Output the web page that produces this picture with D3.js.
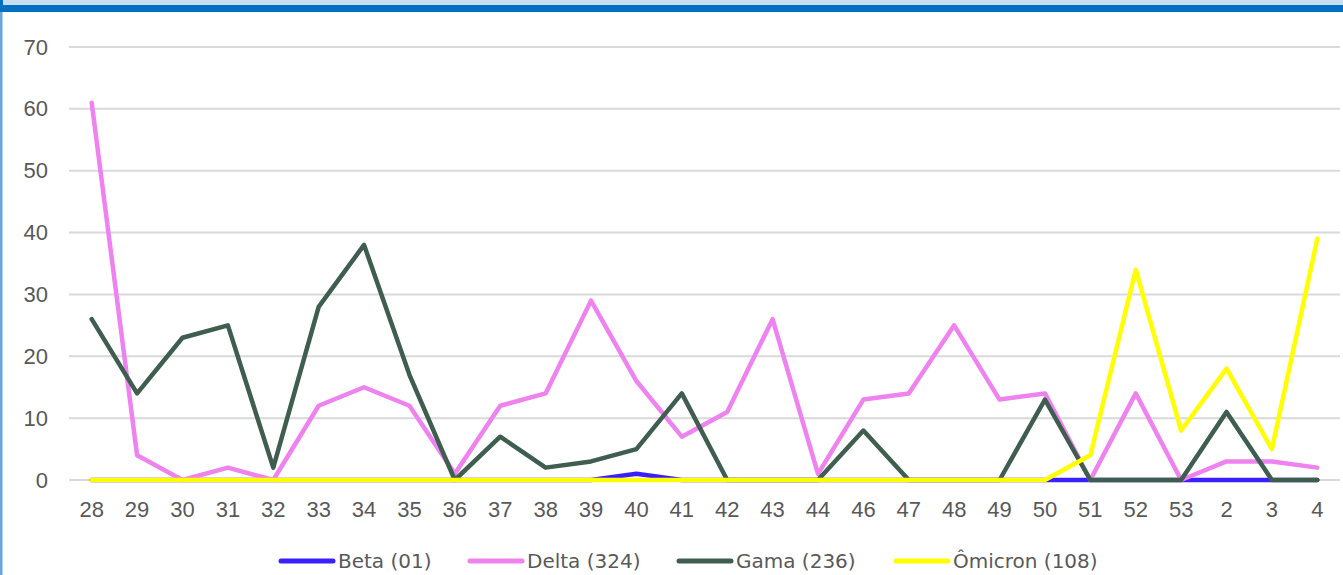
<!DOCTYPE html>
<meta charset="utf-8">
<style>
body { margin: 0; background: #fff; }
svg { display: block; font-family: "DejaVu Sans", sans-serif; }
.grid line { stroke: #d9d9d9; stroke-width: 2; }
.tick text { fill: #595959; }
.serie { fill: none; stroke-width: 4.5; stroke-linejoin: round; stroke-linecap: round; }
</style>
<svg width="1343" height="575"></svg>
<script src="https://d3js.org/d3.v7.min.js"></script>
<script>
// semanas epidemiologicas (45 nao aparece)
var semanas = ["28","29","30","31","32","33","34","35","36","37","38","39","40","41","42","43","44","46","47","48","49","50","51","52","53","2","3","4"];

var beta    = [0,0,0,0,0,0,0,0,0,0,0,0,1,0,0,0,0,0,0,0,0,0,0,0,0,0,0,0];
var delta   = [61,4,0,2,0,12,15,12,1,12,14,29,16,7,11,26,1,13,14,25,13,14,0,14,0,3,3,2];
var gama    = [26,14,23,25,2,28,38,17,0,7,2,3,5,14,0,0,0,8,0,0,0,13,0,0,0,11,0,0];
var omicron = [0,0,0,0,0,0,0,0,0,0,0,0,0,0,0,0,0,0,0,0,0,0,4,34,8,18,5,39];

var yTicks = [0,10,20,30,40,50,60,70];

var series = [
  {nome: "Beta (01)", valores: beta, cor: "#3a20ff"},
  {nome: "Delta (324)", valores: delta, cor: "#ee82ee"},
  {nome: "Gama (236)", valores: gama, cor: "#3f5e50"},
  {nome: "Ômicron (108)", valores: omicron, cor: "#ffff00"}
];

var svg = d3.select("svg");

// moldura azul (topo e esquerda)
svg.append("rect").attr("x", 0).attr("y", 0).attr("width", 1343).attr("height", 5).attr("fill", "#c9dff1");
svg.append("rect").attr("x", 0).attr("y", 5).attr("width", 1343).attr("height", 7).attr("fill", "#0070c0");
svg.append("rect").attr("x", 0).attr("y", 0).attr("width", 3).attr("height", 12).attr("fill", "#0070c0");
svg.append("rect").attr("x", 0).attr("y", 12).attr("width", 2.5).attr("height", 563).attr("fill", "#6aa6dc");

var mLeft = 69, mRight = 1340, mTop = 47, mBottom = 480;

var x = d3.scaleBand().domain(semanas).range([mLeft, mRight]);
var y = d3.scaleLinear().domain([0, 70]).range([mBottom, mTop]);

// grade
svg.append("g")
  .attr("class", "grid")
  .selectAll("line")
  .data(yTicks)
  .enter().append("line")
  .attr("x1", mLeft).attr("x2", mRight)
  .attr("y1", function(d) { return y(d); })
  .attr("y2", function(d) { return y(d); });

var yAxis = svg.append("g")
  .attr("transform", "translate(" + mLeft + ",0)")
  .call(d3.axisLeft(y).tickValues(yTicks).tickSize(0).tickPadding(21));
yAxis.select(".domain").remove();
yAxis.selectAll("text").style("font-size", "22px");

var xAxis = svg.append("g")
  .attr("transform", "translate(0," + mBottom + ")")
  .call(d3.axisBottom(x).tickSize(0).tickPadding(21));
xAxis.select(".domain").remove();
xAxis.selectAll("text").style("font-size", "22px");

var linha = d3.line()
  .x(function(d, i) { return x(semanas[i]) + x.bandwidth() / 2; })
  .y(function(d) { return y(d); });

svg.selectAll(".serie")
  .data(series)
  .enter().append("path")
  .attr("class", "serie")
  .attr("stroke", function(d) { return d.cor; })
  .attr("d", function(d) { return linha(d.valores); });

// legenda
var legX = [279, 468, 677, 894];
var leg = svg.selectAll(".leg")
  .data(series)
  .enter().append("g")
  .attr("class", "leg")
  .attr("transform", function(d, i) { return "translate(" + legX[i] + ",561)"; });

leg.append("line")
  .attr("x1", 2).attr("x2", 54)
  .attr("stroke", function(d) { return d.cor; })
  .attr("stroke-width", 5)
  .attr("stroke-linecap", "round");

leg.append("text")
  .attr("x", 59)
  .attr("dy", "0.35em")
  .attr("fill", "#595959")
  .style("font-size", "20px")
  .text(function(d) { return d.nome; });
</script>
